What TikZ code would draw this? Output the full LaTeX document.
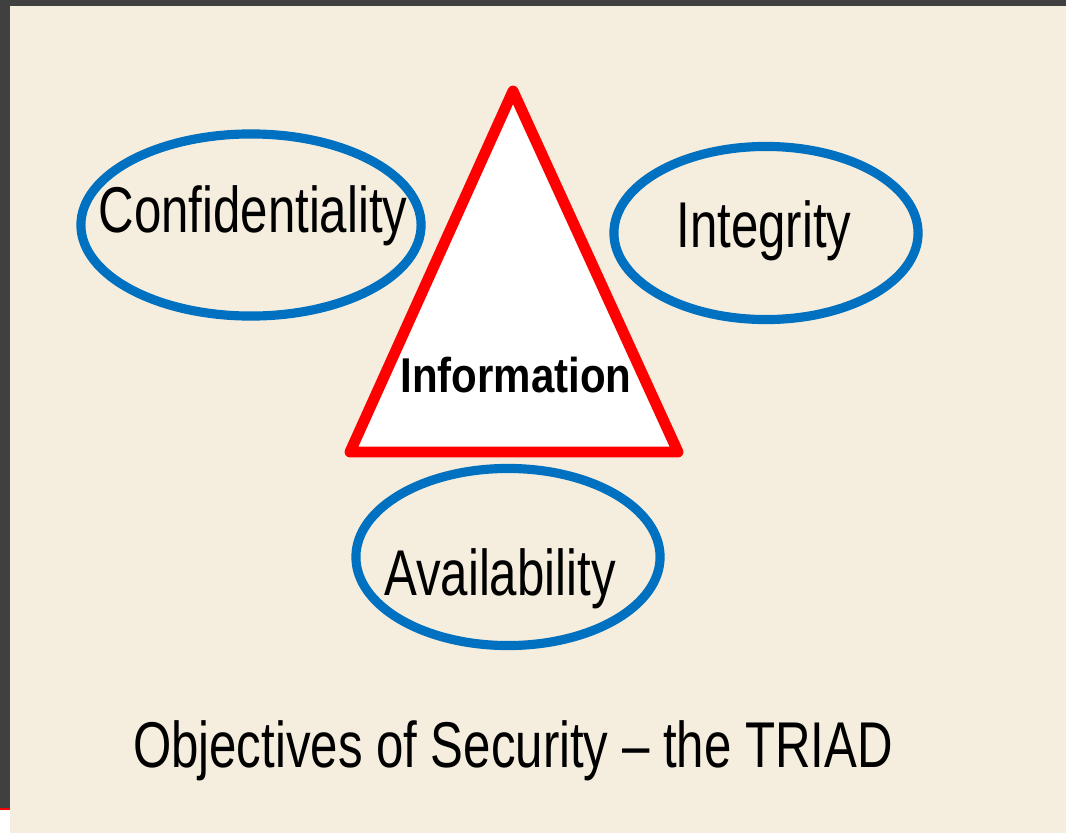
\documentclass[tikz,border=0pt]{standalone}
\usepackage{fontspec}
\setmainfont{Liberation Sans}
\newfontfamily\triadfont[FakeStretch=0.76]{Liberation Sans}
\newfontfamily\infofont[FakeStretch=0.86]{Liberation Sans}
\usetikzlibrary{shapes.geometric}
\definecolor{slidebg}{RGB}{245,238,222}
\definecolor{framegray}{RGB}{64,64,64}
\definecolor{goalblue}{RGB}{0,112,192}
\tikzset{
  % goal/.style={
  %   draw, ellipse
  % },
  x=0.01cm, y=-0.01cm,
  goal/.style={ellipse, draw=goalblue, line width=2.6pt, inner sep=0pt},
  goaltext/.style={font=\triadfont\fontsize{18.4}{22}\selectfont, anchor=base, inner sep=0pt},
  infotri/.style={draw=red, fill=white, line width=3.1pt, line join=round}
}

\begin{document}
\begin{tikzpicture}
      \useasboundingbox (0,0) rectangle (1066,833);
      \fill[framegray] (0,0) rectangle (1066,808);
      \fill[red] (0,808) rectangle (10,810);
      \fill[white] (0,810) rectangle (10,833);
      \fill[slidebg] (10,6) rectangle (1066,833);
      
      \node[goal, minimum width=3.40cm, minimum height=1.82cm] (conf) at (251,225) {};
      \node[goal, minimum width=3.04cm, minimum height=1.73cm] (integ) at (766,233) {};
      \node[goal, minimum width=3.04cm, minimum height=1.77cm] (avail) at (508,557) {};
      
      \draw[infotri] (513,91) coordinate (top) -- (350,452) coordinate (left)
      -- (678,452) coordinate (right) -- cycle;
      
      \node[goaltext] (conftext) at (253,232) {Confidentiality};
      \node[goaltext] (integtext) at (764,247) {Integrity};
      \node[goaltext] (availtext) at (500,595) {Availability};
      \node[anchor=base, inner sep=0pt, font=\infofont\bfseries\fontsize{13.9}{17}\selectfont] (info) at (516,392) {Information};
      \node[goaltext] (caption) at (513,767) {Objectives of Security – the TRIAD};
      
    \end{tikzpicture}
\end{document}
